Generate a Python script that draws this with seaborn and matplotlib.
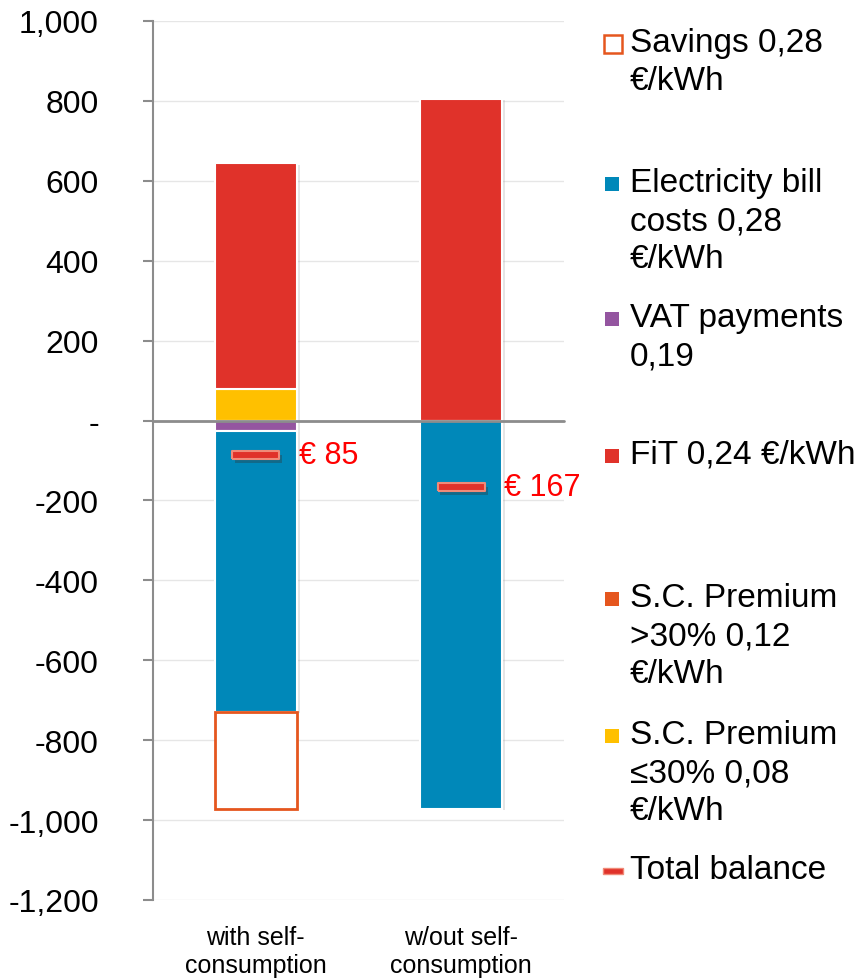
import matplotlib
matplotlib.use("Agg")
import matplotlib.pyplot as plt
import matplotlib.patheffects as pe
from matplotlib.patches import Rectangle
from matplotlib.ticker import FuncFormatter
import seaborn as sns
import pandas as pd
import numpy as np

# ---- data ----
categories = ["with self-\nconsumption", "w/out self-\nconsumption"]
sc_low = [80, 0]          # S.C. Premium <=30%
fit = [564, 805]          # FiT, stacked on top of sc_low
sc_high = [0, 0]          # S.C. Premium >30%
vat = [-27, 0]            # VAT payments
bill = [-702, -972]       # Electricity bill costs, below vat
savings = [-244, 0]       # Savings, below bill (hollow)
total = [-85, -167]       # Total balance

yticks = list(range(-1200, 1001, 200))

series_labels = [
    "Savings 0,28\n€/kWh",
    "Electricity bill\ncosts 0,28\n€/kWh",
    "VAT payments\n0,19",
    "FiT 0,24 €/kWh",
    "S.C. Premium\n>30% 0,12\n€/kWh",
    "S.C. Premium\n≤30% 0,08\n€/kWh",
    "Total balance",
]

c_red = "#E0322A"
c_blue = "#0088B9"
c_purple = "#9455A0"
c_yellow = "#FFC000"
c_orange = "#E5561E"

sns.set_theme(style="white")
plt.rcParams["font.family"] = ["Liberation Sans", "DejaVu Sans"]
plt.rcParams["text.color"] = "black"

fig = plt.figure(figsize=(8.67, 9.79), dpi=100)
ax = fig.add_axes([153 / 867, 1 - 901 / 979, 411 / 867, 879 / 979])

shadow = [pe.SimplePatchShadow(offset=(2, -1), shadow_rgbFace="#999999", alpha=0.25), pe.Normal()]

def stack(values, base, color, edge="white", lw=1.5, fill=True):
    df = pd.DataFrame({"cat": categories, "v": values, "b": base})
    sns.barplot(data=df, x="cat", y="v", ax=ax, color=color, width=0.4,
                bottom=df["b"], edgecolor=edge, linewidth=lw, fill=fill,
                saturation=1, errorbar=None)

zero = [0, 0]
base_fit = list(np.array(sc_low))
base_bill = list(np.array(vat))
base_sav = list(np.array(vat) + np.array(bill))

n0 = len(ax.patches)
stack(sc_low, zero, c_yellow)
stack(fit, base_fit, c_red)
stack(vat, zero, c_purple)
stack(bill, base_bill, c_blue)
for p in ax.patches[n0:]:
    if abs(p.get_height()) > 0:
        p.set_path_effects(shadow)
    else:
        p.set_visible(False)
n1 = len(ax.patches)
stack(savings, base_sav, c_orange, edge=c_orange, lw=2, fill=False)
for p in ax.patches[n1:]:
    p.set_facecolor("white")
    p.set_edgecolor(c_orange)
    if abs(p.get_height()) == 0:
        p.set_visible(False)

# total balance markers
bar_marker = np.array([[-1, -0.17], [1, -0.17], [1, 0.17], [-1, 0.17], [-1, -0.17]])
tdf = pd.DataFrame({"cat": categories, "v": total})
sns.scatterplot(data=tdf, x="cat", y="v", ax=ax, marker=bar_marker, s=1150,
                color=c_red, edgecolor="#F08A78", linewidth=1.5, zorder=5,
                path_effects=[pe.SimplePatchShadow(offset=(2, -3), shadow_rgbFace="#333333", alpha=0.35), pe.Normal()])
for i, v in enumerate(total):
    ax.text(i + 0.21, v, f"€ {abs(v):.0f}", color="#FF0000", fontsize=22,
            va="center", ha="left", zorder=6)

ax.axhline(0, color="#8C8C8C", lw=2, zorder=3, clip_on=False)
ax.set_xlim(-0.5, 1.5)
ax.set_ylim(-1200, 1000)
ax.set_yticks(yticks)
ax.yaxis.set_major_formatter(FuncFormatter(lambda v, p: "-" if v == 0 else f"{v:,.0f}"))
ax.yaxis.grid(True, color="#E6E6E6", lw=1)
ax.set_axisbelow(True)
for s in ["top", "right", "bottom"]:
    ax.spines[s].set_visible(False)
ax.spines["left"].set_color("#8C8C8C")
ax.spines["left"].set_linewidth(1.5)
ax.tick_params(axis="y", left=True, length=7, width=1.5, color="#8C8C8C",
               labelsize=23, pad=32, labelcolor="black")
ax.tick_params(axis="x", bottom=False, labelsize=18, pad=12, labelcolor="black")
ax.set_xlabel("")
ax.set_ylabel("")

# legend laid out like the original (entries spread over the right side)
leg_y = [45, 185, 320, 457, 600, 737, 872]
leg_kind = ["hollow", c_blue, c_purple, c_red, c_orange, c_yellow, "line"]
for lab, y, kind in zip(series_labels, leg_y, leg_kind):
    fig.text(630 / 867, 1 - (y - 17) / 979, lab, fontsize=24, va="top", ha="left",
             linespacing=1.3, color="black", transform=fig.transFigure)
    cy = 1 - y / 979
    if kind == "hollow":
        fig.add_artist(Rectangle((604 / 867, cy - 9 / 979), 18 / 867, 18 / 979,
                                 facecolor="white", edgecolor=c_orange, lw=1.8,
                                 transform=fig.transFigure))
    elif kind == "line":
        fig.add_artist(Rectangle((603 / 867, cy - 3 / 979), 20 / 867, 6 / 979,
                                 facecolor=c_red, edgecolor="#F08A78", lw=1,
                                 transform=fig.transFigure))
    else:
        fig.add_artist(Rectangle((605 / 867, cy - 7 / 979), 14 / 867, 14 / 979,
                                 facecolor=kind, edgecolor="none",
                                 transform=fig.transFigure))

fig.savefig("out.png", dpi=100)
